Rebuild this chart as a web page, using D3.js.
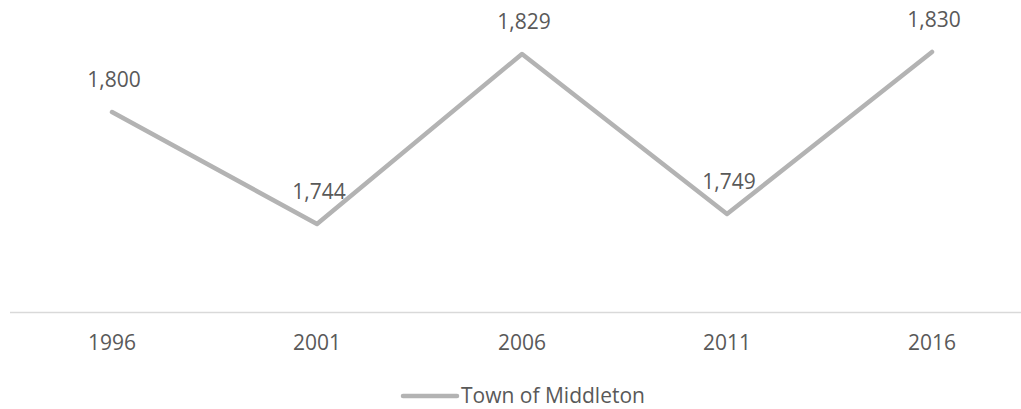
<html>
  <head>
    <title>Town of Middleton</title>
    <style type="text/css">
      body { margin: 0; background: #fff; }
      .chart { width: 1021px; height: 409px; display: block; }
      text { font-family: "Open Sans", sans-serif; fill: #595959; }
    </style>
    <script src="https://d3js.org/d3.v7.min.js"></script>
  </head>
  <body>
    <svg class="chart"></svg>
    <script>

// data
var years = ["1996", "2001", "2006", "2011", "2016"];
var population = [1800, 1744, 1829, 1749, 1830];
var seriesName = "Town of Middleton";

var data = years.map(function(y, i) { return {year: y, value: population[i]}; });

var svg = d3.select(".chart")
    .attr("width", 1021)
    .attr("height", 409);

// x: one band per census year
var x = d3.scaleBand()
  .domain(years)
  .range([9.5, 1034.5]);

// y: 1700 sits on the axis line
var y = d3.scaleLinear()
  .domain([1700, 1850])
  .range([312, 12]);

// axis line + year labels
var xAxis = svg.append("g")
  .attr("transform", "translate(0," + y(1700) + ")")
  .call(d3.axisBottom(x).tickSize(0).tickPadding(0));

xAxis.select(".domain")
  .attr("stroke", "#d9d9d9")
  .attr("stroke-width", 1.5);

xAxis.selectAll(".tick text")
  .attr("dy", null)
  .attr("y", 38)
  .style("font-size", "21px")
  .attr("fill", "#595959");

// the line
svg.append("path")
  .datum(data)
  .attr("fill", "none")
  .attr("stroke", "#b3b3b3")
  .attr("stroke-width", 4.5)
  .attr("stroke-linejoin", "round")
  .attr("stroke-linecap", "round")
  .attr("d", d3.line()
    .x(function(d) { return x(d.year) + x.bandwidth() / 2; })
    .y(function(d) { return y(d.value); })
  );

// value labels
svg.selectAll(".val")
  .data(data)
  .enter().append("text")
    .attr("class", "val")
    .attr("x", function(d) { return x(d.year) + x.bandwidth() / 2 + 2; })
    .attr("y", function(d) { return y(d.value) - 25; })
    .attr("text-anchor", "middle")
    .style("font-size", "21px")
    .text(function(d) { return d3.format(",")(d.value); });

// legend
var legend = svg.append("g");
legend.append("line")
  .attr("x1", 403).attr("x2", 457)
  .attr("y1", 396).attr("y2", 396)
  .attr("stroke", "#b3b3b3")
  .attr("stroke-width", 4.5)
  .attr("stroke-linecap", "round");
legend.append("text")
  .attr("x", 461)
  .attr("y", 403)
  .style("font-size", "21px")
  .text(seriesName);

</script>
  </body>
</html>
